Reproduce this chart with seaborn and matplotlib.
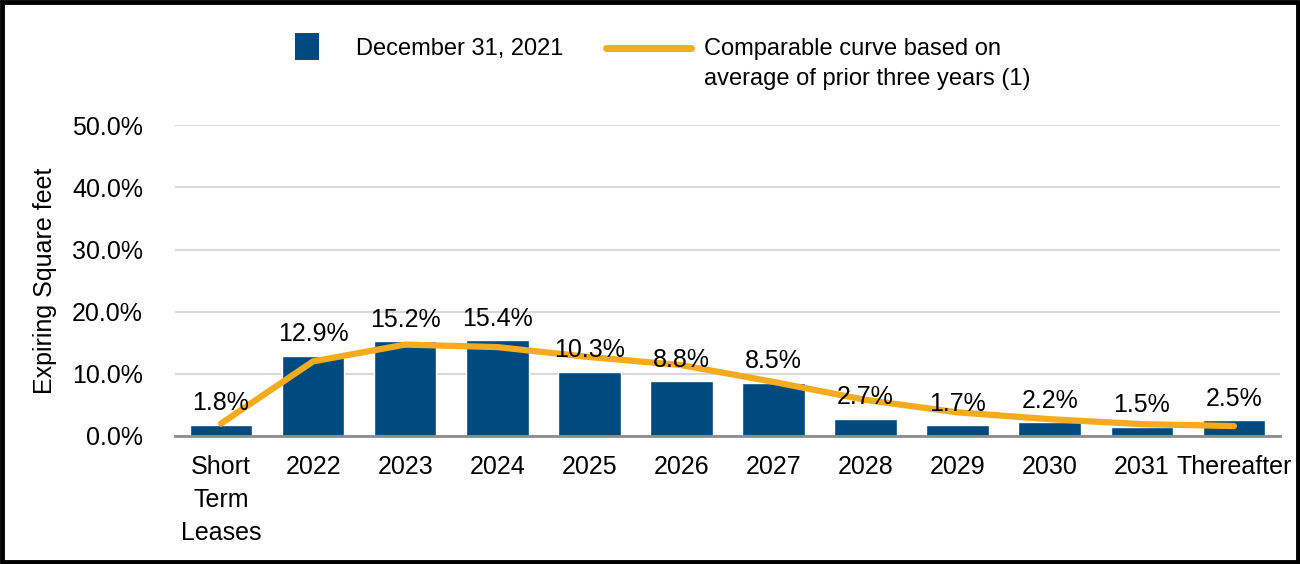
import numpy as np
import pandas as pd
import matplotlib
matplotlib.use("Agg")
import matplotlib.pyplot as plt
from matplotlib.patches import Patch, Rectangle
from matplotlib.lines import Line2D
import seaborn as sns

# Lease expiration data
categories = ["Short\nTerm\nLeases", "2022", "2023", "2024", "2025", "2026",
              "2027", "2028", "2029", "2030", "2031", "Thereafter"]
expiring_2021 = [1.8, 12.9, 15.2, 15.4, 10.3, 8.8, 8.5, 2.7, 1.7, 2.2, 1.5, 2.5]
comparable_curve = [2.0, 12.0, 14.7, 14.3, 12.7, 11.4, 8.7, 5.8, 3.8, 2.7, 1.9, 1.6]
y_ticks = [0, 10, 20, 30, 40, 50]

bar_color = "#014a80"
line_color = "#f5ab1e"

sns.set_style("white")
plt.rcParams['font.family'] = ['Liberation Sans', 'DejaVu Sans']
plt.rcParams.update({"text.color": "black", "axes.labelcolor": "black",
                     "xtick.color": "black", "ytick.color": "black"})

df = pd.DataFrame({"category": categories,
                   "expiring": expiring_2021,
                   "curve": comparable_curve})

fig = plt.figure(figsize=(13, 5.64), dpi=100)
ax = fig.add_axes([0.1346, 0.227, 0.85, 0.551])

sns.barplot(data=df, x="category", y="expiring", color=bar_color,
            width=0.68, saturation=1, ax=ax, zorder=2)
sns.pointplot(data=df, x="category", y="curve", color=line_color,
              markers="", linewidth=4.5, errorbar=None, ax=ax, zorder=3)

ax.bar_label(ax.containers[0], labels=[f"{v:.1f}%" for v in expiring_2021],
             padding=7, fontsize=18, color="black", zorder=4)

ax.set_ylim(0, 50)
ax.set_xlim(-0.5, len(categories) - 0.5)
ax.set_yticks(y_ticks)
ax.set_yticklabels([f"{v:.1f}%" for v in y_ticks])
ax.yaxis.grid(True, color="#d9d9d9", linewidth=1.5, zorder=0)
ax.set_axisbelow(True)
ax.tick_params(axis="y", length=0, pad=23, labelsize=18, labelcolor="black")
ax.tick_params(axis="x", length=0, pad=14, labelsize=18, labelcolor="black")
for lbl in ax.get_xticklabels():
    lbl.set_linespacing(1.45)
ax.set_xlabel("")
ax.set_ylabel("Expiring Square feet", fontsize=18, labelpad=11, color="black")

for side in ["top", "right", "left"]:
    ax.spines[side].set_visible(False)
ax.spines["bottom"].set_color("#8c8c8c")
ax.spines["bottom"].set_linewidth(2)
ax.spines["bottom"].set_zorder(5)

# Legend, two separate pieces to match the original arrangement
leg1 = fig.legend(handles=[Patch(facecolor=bar_color, edgecolor="none")],
                  labels=["December 31, 2021"], loc="center left",
                  bbox_to_anchor=(0.227, 0.917), frameon=False, fontsize=17,
                  handlelength=1.0, handleheight=1.4, handletextpad=1.6,
                  borderpad=0, borderaxespad=0, labelcolor="black")
leg2 = fig.legend(handles=[Line2D([], [], color=line_color, linewidth=5)],
                  labels=["Comparable curve based on\naverage of prior three years (1)"],
                  loc="upper left", bbox_to_anchor=(0.466, 0.932), frameon=False,
                  fontsize=17, handlelength=3.6, handletextpad=0.55,
                  borderpad=0, borderaxespad=0, labelcolor="black")
for t in leg2.get_texts():
    t.set_linespacing(1.45)
# keep the curve sample level with the first line of its label
h = leg2.legend_handles[0]
h.set_ydata(np.asarray(h.get_ydata()) + 11.5)

# Black frame around the whole figure
fig.patches.append(Rectangle((0.0015, 0.003), 0.997, 0.994, transform=fig.transFigure,
                             fill=False, edgecolor="black", linewidth=3.5))

fig.savefig("out.png", dpi=100)
